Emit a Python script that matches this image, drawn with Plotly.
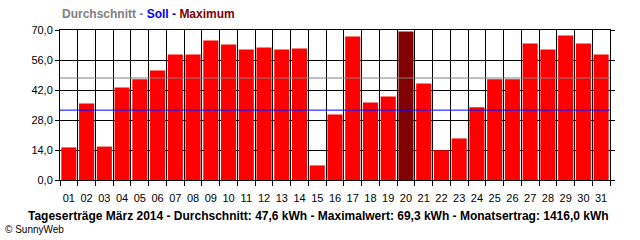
import plotly.graph_objects as go

days = [f"{i:02d}" for i in range(1, 32)]
values = [15.2, 35.7, 15.6, 43.2, 47.0, 51.1, 58.6, 58.6, 65.1, 63.2,
          60.9, 61.8, 60.9, 61.4, 6.8, 30.6, 67.0, 36.2, 39.0, 69.3,
          45.0, 13.9, 19.4, 34.0, 47.0, 47.0, 63.7, 60.9, 67.4, 63.7, 58.6]
average = 47.6
target = 32.6
maximum = 69.3
y_ticks = [0, 14, 28, 42, 56, 70]

x_pos = list(range(1, len(days) + 1))
max_idx = values.index(max(values))
colors = ["#800000" if i == max_idx else "#ff0000" for i in range(len(values))]

FONT = "Liberation Sans, Arial, sans-serif"

fig = go.Figure()
fig.add_trace(go.Bar(x=x_pos, y=values, marker=dict(color=colors, line=dict(width=0)),
                     hoverinfo="skip"))
fig.add_trace(go.Scatter(x=[0.5, len(days) + 0.5], y=[average, average], mode="lines",
                         line=dict(color="#808080", width=1), hoverinfo="skip"))
fig.add_trace(go.Scatter(x=[0.5, len(days) + 0.5], y=[target, target], mode="lines",
                         line=dict(color="#0000ff", width=1), hoverinfo="skip"))

fig.update_layout(
    width=640, height=240,
    margin=dict(l=60, r=30, t=30, b=60),
    paper_bgcolor="white", plot_bgcolor="white",
    showlegend=False, bargap=0.15,
    separators=",.",
    font=dict(family=FONT, size=11, color="black"),
    xaxis=dict(
        range=[0.5, len(days) + 0.5],
        tickvals=x_pos, ticktext=days, ticks="outside", ticklen=8,
        tickcolor="rgba(0,0,0,0)", showgrid=False,
        showline=True, linecolor="black", linewidth=1, mirror=True,
        zeroline=False, tickfont=dict(family=FONT, size=11),
        minor=dict(tickvals=[i + 0.5 for i in range(0, len(days) + 1)],
                   ticks="outside", ticklen=5, tickcolor="black", tickwidth=1,
                   showgrid=True, gridcolor="black", gridwidth=1),
    ),
    yaxis=dict(
        range=[0, 70], tickvals=y_ticks, tickformat=".1f",
        ticks="outside", ticklen=4, tickcolor="black",
        showgrid=True, gridcolor="black", gridwidth=1,
        showline=True, linecolor="black", linewidth=1, mirror="ticks",
        zeroline=False, tickfont=dict(family=FONT, size=11),
    ),
)

fig.add_annotation(
    xref="paper", yref="paper", x=0, y=1, xanchor="left", yanchor="bottom", yshift=7,
    showarrow=False,
    text=("<b><span style='color:#808080'>Durchschnitt -</span> "
          "<span style='color:#0000ff'>Soll -</span> "
          "<span style='color:#800000'>Maximum</span></b>"),
    font=dict(family=FONT, size=12),
)
fig.add_annotation(
    xref="paper", yref="paper", x=0.5, y=0, xanchor="center", yanchor="middle",
    yshift=-36, xshift=-17, showarrow=False,
    text=(f"<b>Tageserträge März 2014 - Durchschnitt: {average:.1f} kWh - "
          f"Maximalwert: {maximum:.1f} kWh - Monatsertrag: 1416,0 kWh</b>").replace(".", ","),
    font=dict(family=FONT, size=12, color="black"),
)
fig.add_annotation(
    xref="paper", yref="paper", x=0, y=0, xanchor="left", yanchor="middle",
    xshift=-57, yshift=-49, showarrow=False,
    text="© SunnyWeb", font=dict(family=FONT, size=10, color="black"),
)

fig.write_html("out.html")
